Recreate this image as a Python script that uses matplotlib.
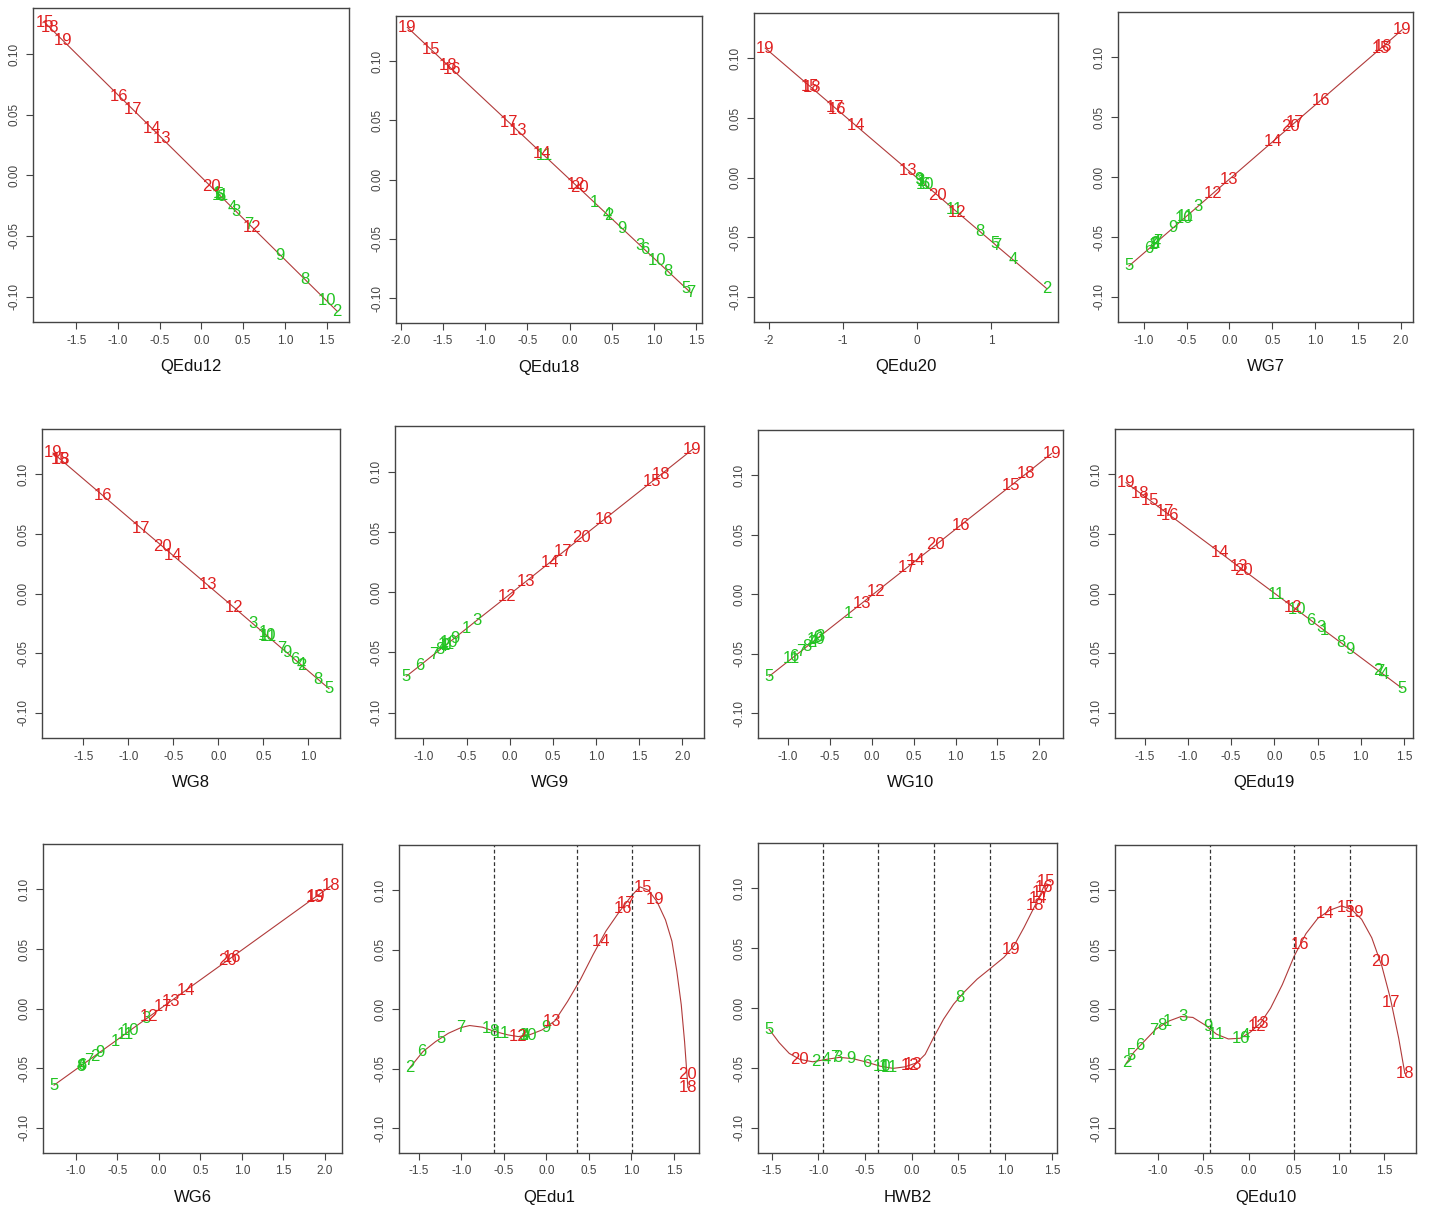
import numpy as np
import matplotlib
matplotlib.use("Agg")
import matplotlib.pyplot as plt

plt.rcParams['font.family'] = ['Liberation Sans', 'DejaVu Sans']

# point ids 1..20, ids 1-11 are one group, 12-20 the other
ids = list(range(1, 21))

# x / y values for each point, listed in id order 1..20
qedu12_x = [0.194, 1.629, 0.412, 0.365, 0.206, 0.234, 0.571, 1.237, 0.947, 1.502,
            0.222, 0.610, -0.472, -0.598, -1.880, -0.987, -0.824, -1.815, -1.657, 0.115]
qedu12_y = [-0.0148, -0.1122, -0.0296, -0.0264, -0.0156, -0.0175, -0.0404, -0.0856, -0.0659, -0.1036,
            -0.0167, -0.0430, 0.0304, 0.0390, 0.1261, 0.0654, 0.0544, 0.1216, 0.1109, -0.0094]

qedu18_x = [0.288, 0.46, 0.833, 0.45, 1.382, 0.892, 1.433, 1.165, 0.624, 1.03,
            -0.30, 0.07, -0.612, -0.332, -1.646, -1.390, -0.719, -1.437, -1.923, 0.11]
qedu18_y = [-0.0190, -0.0305, -0.0554, -0.0298, -0.0920, -0.0593, -0.0954, -0.0775, -0.0414, -0.0685,
            0.0202, -0.0045, 0.0410, 0.0223, 0.1100, 0.0929, 0.0482, 0.0960, 0.1285, -0.0071]

qedu20_x = [0.06, 1.751, 0.036, 1.293, 1.046, 0.10, 1.069, 0.853, 0.02, 0.112,
            0.503, 0.539, -0.121, -0.831, -1.446, -1.087, -1.114, -1.423, -2.052, 0.278]
qedu20_y = [-0.0034, -0.0930, -0.0021, -0.0687, -0.0556, -0.0055, -0.0569, -0.0454, -0.0013, -0.0061,
            -0.0269, -0.0288, 0.0062, 0.0438, 0.0764, 0.0574, 0.0588, 0.0752, 0.1086, -0.0149]

wg7_x = [-0.89, -0.87, -0.372, -0.86, -1.175, -0.940, -0.84, -0.88, -0.658, -0.529,
         -0.51, -0.196, 0.0, 0.509, 1.77, 1.065, 0.764, 1.79, 2.017, 0.713]
wg7_y = [-0.0566, -0.0554, -0.0246, -0.0547, -0.0742, -0.0597, -0.0535, -0.0560, -0.0423, -0.0343,
         -0.0331, -0.0137, -0.0016, 0.0299, 0.1078, 0.0642, 0.0456, 0.1090, 0.1231, 0.0425]

wg8_x = [0.50, 0.93, 0.386, 0.92, 1.228, 0.845, 0.70, 1.110, 0.76, 0.540,
         0.55, 0.176, -0.121, -0.50, -1.76, -1.287, -0.857, -1.75, -1.838, -0.625]
wg8_y = [-0.0327, -0.0604, -0.0254, -0.0597, -0.0796, -0.0549, -0.0456, -0.0720, -0.0494, -0.0353,
         -0.0359, -0.0118, 0.0073, 0.0317, 0.1128, 0.0824, 0.0547, 0.1122, 0.1179, 0.0398]

wg9_x = [-0.505, -0.75, -0.381, -0.77, -1.197, -1.038, -0.882, -0.805, -0.64, -0.70,
         -0.73, -0.031, 0.194, 0.466, 1.652, 1.088, 0.622, 1.749, 2.118, 0.836]
wg9_y = [-0.0304, -0.0443, -0.0233, -0.0454, -0.0697, -0.0607, -0.0518, -0.0474, -0.0381, -0.0415,
         -0.0432, -0.0035, 0.0093, 0.0248, 0.0921, 0.0601, 0.0336, 0.0976, 0.1186, 0.0458]

wg10_x = [-0.281, -0.72, -0.62, -0.70, -1.225, -0.932, -0.855, -0.771, -0.64, -0.67,
          -0.96, 0.052, -0.120, 0.522, 1.667, 1.064, 0.422, 1.847, 2.149, 0.763]
wg10_y = [-0.0166, -0.0410, -0.0354, -0.0399, -0.0690, -0.0527, -0.0485, -0.0438, -0.0365, -0.0382,
          -0.0543, 0.0019, -0.0077, 0.0280, 0.0915, 0.0581, 0.0224, 0.1015, 0.1183, 0.0413]

qedu19_x = [0.577, 1.20, 0.538, 1.269, 1.477, 0.423, 1.22, 0.769, 0.873, 0.258,
            0.027, 0.219, -0.408, -0.627, -1.435, -1.204, -1.262, -1.550, -1.715, -0.358]
qedu19_y = [-0.0307, -0.0643, -0.0286, -0.0680, -0.0793, -0.0223, -0.0654, -0.0410, -0.0466, -0.0134,
            -0.0010, -0.0113, 0.0225, 0.0344, 0.0780, 0.0655, 0.0686, 0.0842, 0.0931, 0.0198]

wg6_x = [-0.528, -0.772, -0.150, -0.93, -1.26, -0.925, -0.846, -0.94, -0.711, -0.346,
         -0.407, -0.114, 0.142, 0.325, 1.88, 0.882, 0.053, 2.073, 1.90, 0.825]
wg6_y = [-0.0275, -0.0397, -0.0085, -0.0476, -0.0641, -0.0473, -0.0434, -0.0481, -0.0366, -0.0183,
         -0.0214, -0.0067, 0.0061, 0.0153, 0.0932, 0.0432, 0.0017, 0.1029, 0.0942, 0.0403]

qedu1_x = [-0.70, -1.60, -0.28, -0.25, -1.24, -1.46, -1.00, -0.62, -0.01, -0.22,
           -0.53, -0.33, 0.07, 0.64, 1.14, 0.90, 0.94, 1.663, 1.28, 1.652]
qedu1_y = [-0.0165, -0.049, -0.0226, -0.0222, -0.0245, -0.036, -0.0155, -0.0185, -0.0155, -0.0219,
           -0.0205, -0.0231, -0.010, 0.057, 0.102, 0.085, 0.089, -0.066, 0.092, -0.055]
qedu1_fit_x = [-1.60, -1.45, -1.30, -1.15, -1.00, -0.90, -0.75, -0.60, -0.45, -0.33, -0.20, -0.05,
               0.10, 0.25, 0.40, 0.55, 0.70, 0.85, 1.00, 1.10, 1.20, 1.30, 1.40, 1.475, 1.533,
               1.585, 1.624, 1.663]
qedu1_fit_y = [-0.049, -0.0358, -0.0273, -0.0203, -0.0155, -0.0138, -0.0152, -0.0189, -0.0217,
               -0.0231, -0.0217, -0.0175, -0.0099, 0.0065, 0.0248, 0.0459, 0.0656, 0.0811, 0.0952,
               0.1028, 0.1000, 0.0904, 0.0750, 0.0572, 0.0318, 0.0037, -0.0273, -0.066]
qedu1_knots = [-0.617, 0.358, 1.011]

hwb2_x = [-0.30, -1.031, -0.791, -0.916, -1.527, -0.485, -0.826, 0.514, -0.647, -0.323,
          -0.234, -0.02, 0.01, 1.355, 1.437, 1.412, 1.383, 1.319, 1.06, -1.197]
hwb2_y = [-0.049, -0.0446, -0.0412, -0.0428, -0.0176, -0.045, -0.0415, 0.009, -0.042, -0.0488,
          -0.0498, -0.0478, -0.0468, 0.0913, 0.1055, 0.101, 0.0965, 0.0856, 0.049, -0.0428]
hwb2_fit_x = [-1.527, -1.419, -1.311, -1.197, -1.06, -0.916, -0.773, -0.629, -0.485, -0.341,
              -0.198, -0.072, 0.054, 0.144, 0.234, 0.341, 0.449, 0.557, 0.701, 0.844, 0.988,
              1.096, 1.204, 1.294, 1.365, 1.437]
hwb2_fit_y = [-0.0176, -0.0288, -0.0378, -0.0428, -0.0448, -0.0428, -0.0411, -0.0422, -0.045,
              -0.0484, -0.0503, -0.049, -0.0456, -0.0386, -0.0246, -0.0092, 0.0034, 0.0131, 0.0243,
              0.0333, 0.0425, 0.0523, 0.0677, 0.0817, 0.0929, 0.1055]
hwb2_knots = [-0.952, -0.359, 0.241, 0.834]

qedu10_x = [-0.896, -1.35, -0.728, -0.04, -1.295, -1.20, -1.045, -0.963, -0.455, -0.086,
            -0.354, 0.093, 0.131, 0.847, 1.082, 0.571, 1.578, 1.728, 1.175, 1.455]
qedu10_y = [-0.0105, -0.0452, -0.0063, -0.022, -0.039, -0.0305, -0.0179, -0.0139, -0.0150, -0.0244,
            -0.0211, -0.0145, -0.0118, 0.0806, 0.0853, 0.0542, 0.0053, -0.0541, 0.081, 0.040]
qedu10_fit_x = [-1.354, -1.269, -1.157, -1.026, -0.877, -0.746, -0.616, -0.485, -0.354, -0.224,
                -0.093, 0.019, 0.131, 0.243, 0.373, 0.504, 0.634, 0.765, 0.896, 1.026, 1.138,
                1.250, 1.362, 1.474, 1.567, 1.660, 1.728]
qedu10_fit_y = [-0.0456, -0.0363, -0.0273, -0.0169, -0.0099, -0.0062, -0.0070, -0.0132, -0.0211,
                -0.0251, -0.0245, -0.0194, -0.0118, 0.0008, 0.0206, 0.0445, 0.0634, 0.0763, 0.0831,
                0.0868, 0.0839, 0.0755, 0.0600, 0.0361, 0.0093, -0.0245, -0.0541]
qedu10_knots = [-0.429, 0.504, 1.119]

panels = [
    ("QEdu12", qedu12_x, qedu12_y, None, None, None, [-1.5, -1.0, -0.5, 0.0, 0.5, 1.0, 1.5]),
    ("QEdu18", qedu18_x, qedu18_y, None, None, None, [-2.0, -1.5, -1.0, -0.5, 0.0, 0.5, 1.0, 1.5]),
    ("QEdu20", qedu20_x, qedu20_y, None, None, None, [-2, -1, 0, 1]),
    ("WG7", wg7_x, wg7_y, None, None, None, [-1.0, -0.5, 0.0, 0.5, 1.0, 1.5, 2.0]),
    ("WG8", wg8_x, wg8_y, None, None, None, [-1.5, -1.0, -0.5, 0.0, 0.5, 1.0]),
    ("WG9", wg9_x, wg9_y, None, None, None, [-1.0, -0.5, 0.0, 0.5, 1.0, 1.5, 2.0]),
    ("WG10", wg10_x, wg10_y, None, None, None, [-1.0, -0.5, 0.0, 0.5, 1.0, 1.5, 2.0]),
    ("QEdu19", qedu19_x, qedu19_y, None, None, None, [-1.5, -1.0, -0.5, 0.0, 0.5, 1.0, 1.5]),
    ("WG6", wg6_x, wg6_y, None, None, None, [-1.0, -0.5, 0.0, 0.5, 1.0, 1.5, 2.0]),
    ("QEdu1", qedu1_x, qedu1_y, qedu1_fit_x, qedu1_fit_y, qedu1_knots, [-1.5, -1.0, -0.5, 0.0, 0.5, 1.0, 1.5]),
    ("HWB2", hwb2_x, hwb2_y, hwb2_fit_x, hwb2_fit_y, hwb2_knots, [-1.5, -1.0, -0.5, 0.0, 0.5, 1.0, 1.5]),
    ("QEdu10", qedu10_x, qedu10_y, qedu10_fit_x, qedu10_fit_y, qedu10_knots, [-1.0, -0.5, 0.0, 0.5, 1.0, 1.5]),
]

# axes boxes in pixels: left, top, right, bottom
boxes = [
    (33, 8, 349, 322), (396, 16, 702, 323), (754, 13, 1058, 322), (1118, 12, 1413, 322),
    (42, 429, 340, 738), (395, 426, 704, 738), (758, 430, 1063, 738), (1115, 429, 1413, 738),
    (43, 844, 342, 1153), (399, 845, 699, 1153), (758, 843, 1057, 1153), (1115, 845, 1416, 1153),
]

W, H = 1429, 1210
RED = '#e02020'
GREEN = '#22c422'
LINE = '#b03a3a'
AXC = '#444444'


def draw_panel(fig, box, name, x, y, fx, fy, knots, xticks):
    l, t, r, b = box
    ax = fig.add_axes([l / W, 1 - b / H, (r - l) / W, (b - t) / H])
    x = np.array(x)
    y = np.array(y)
    if fx is None:
        order = np.argsort(x)
        ax.plot(x[order], y[order], color=LINE, lw=0.8)
        lo, hi = x.min(), x.max()
    else:
        ax.plot(fx, fy, color=LINE, lw=0.8)
        lo, hi = min(fx), max(fx)
    if knots is not None:
        for k in knots:
            ax.axvline(k, color='#333333', lw=0.9, ls=(0, (3, 2)))
    for i, px, py in zip(ids, x, y):
        ax.text(px, py, str(i), color=GREEN if i <= 11 else RED, fontsize=12,
                ha='center', va='center')
    rng = hi - lo
    ax.set_xlim(lo - 0.04 * rng, hi + 0.04 * rng)
    ax.set_ylim(-0.121, 0.138)
    ax.set_xticks(xticks)
    if isinstance(xticks[0], int):
        ax.set_xticklabels([str(v) for v in xticks])
    else:
        ax.set_xticklabels(['%.1f' % v for v in xticks])
    yt = [-0.10, -0.05, 0.0, 0.05, 0.10]
    ax.set_yticks(yt)
    ax.set_yticklabels(['%.2f' % v for v in yt], rotation=90, va='center')
    ax.tick_params(length=5, width=0.8, pad=4, labelsize=8.5, colors=AXC)
    for s in ax.spines.values():
        s.set_color(AXC)
        s.set_linewidth(1.0)
    ax.set_xlabel(name, fontsize=12, labelpad=9, color='#111111')


fig = plt.figure(figsize=(W / 100, H / 100), dpi=100)
for box, p in zip(boxes, panels):
    draw_panel(fig, box, *p)
fig.savefig("out.png", dpi=100, facecolor='white')
